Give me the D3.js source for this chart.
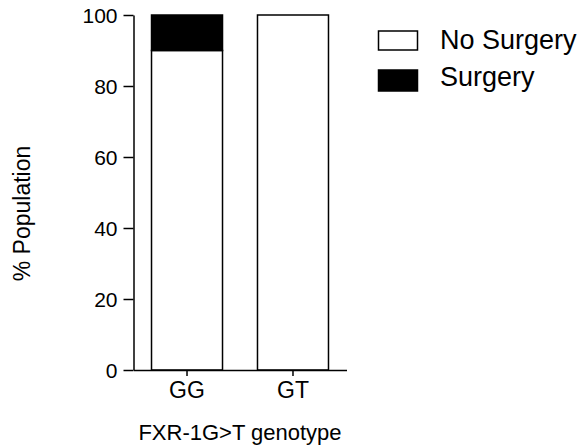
<!DOCTYPE html>
<html>
<head>
<meta charset="utf-8">
<script src="https://cdn.jsdelivr.net/npm/d3@7"></script>
<style>
  body { margin: 0; background: #fff; }
  svg text { font-family: "Liberation Sans", Arial, sans-serif; fill: #000; }
</style>
</head>
<body>
<svg id="chart" width="585" height="448"></svg>
<script>
// Genotype groups and percentage of population in each outcome
const genotypes = ["GG", "GT"];
const noSurgery = [90, 100];
const surgery = [10, 0];
const seriesNames = ["No Surgery", "Surgery"];
const seriesFill = ["#ffffff", "#000000"];
const yTicks = [0, 20, 40, 60, 80, 100];

const svg = d3.select("#chart");

const x = d3.scaleBand()
  .domain(genotypes)
  .range([133.5, 346.5])
  .paddingInner(0.33)
  .paddingOuter(0.17);

const y = d3.scaleLinear()
  .domain([0, 100])
  .range([370, 15]);

// stacked rows: No Surgery at the bottom, Surgery on top
const rows = genotypes.map((g, i) => ({ g, "No Surgery": noSurgery[i], "Surgery": surgery[i] }));
const stack = d3.stack().keys(seriesNames)(rows);

const g = svg.append("g");

stack.forEach((layer, li) => {
  g.selectAll(null)
    .data(layer.filter(d => d[1] > d[0]))
    .enter().append("rect")
    .attr("x", d => x(d.data.g))
    .attr("width", x.bandwidth())
    .attr("y", d => y(d[1]))
    .attr("height", d => y(d[0]) - y(d[1]))
    .attr("fill", seriesFill[li])
    .attr("stroke", "#000")
    .attr("stroke-width", 1.5);
});

// y axis
const yAxis = svg.append("g")
  .attr("transform", "translate(133.5,0)")
  .call(d3.axisLeft(y).tickValues(yTicks).tickSize(10).tickPadding(6).tickSizeOuter(0));
yAxis.attr("font-size", null).attr("font-family", null);
yAxis.select(".domain").attr("stroke-width", 1.5);
yAxis.selectAll(".tick line").attr("stroke-width", 1.5);
yAxis.selectAll(".tick text").style("font-size", "21px").attr("dy", "0.36em");

// x axis
const xAxis = svg.append("g")
  .attr("transform", "translate(0,370)")
  .call(d3.axisBottom(x).tickSize(6).tickPadding(4).tickSizeOuter(0));
xAxis.attr("font-size", null).attr("font-family", null);
xAxis.select(".domain").attr("stroke-width", 1.5);
xAxis.selectAll(".tick line").attr("stroke-width", 1.5);
xAxis.selectAll(".tick text").style("font-size", "23px").attr("dy", "0.78em");

// axis titles
svg.append("text")
  .attr("x", 240).attr("y", 440)
  .attr("text-anchor", "middle")
  .style("font-size", "22px")
  .text("FXR-1G>T genotype");

svg.append("text")
  .attr("transform", "translate(30,213.5) rotate(-90)")
  .attr("text-anchor", "middle")
  .style("font-size", "23px")
  .text("% Population");

// legend
const legendBoxes = [{ y: 31, h: 19 }, { y: 70, h: 21 }];
const legendBaselines = [49, 86];
const legend = svg.append("g");
seriesNames.forEach((name, i) => {
  legend.append("rect")
    .attr("x", 378.5).attr("y", legendBoxes[i].y)
    .attr("width", 39).attr("height", legendBoxes[i].h)
    .attr("fill", seriesFill[i])
    .attr("stroke", "#000").attr("stroke-width", 1.5);
  legend.append("text")
    .attr("x", 440).attr("y", legendBaselines[i])
    .style("font-size", "27px")
    .text(name);
});
</script>
</body>
</html>
